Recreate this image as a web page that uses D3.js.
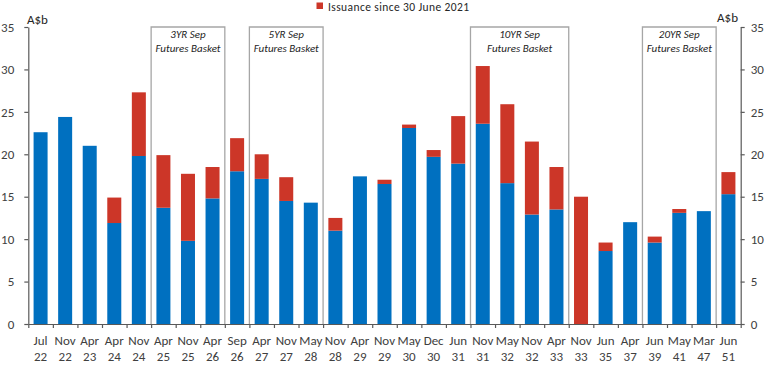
<!DOCTYPE html>
<html>
<head>
<meta charset="utf-8">
<script src="https://cdn.jsdelivr.net/npm/d3@7"></script>
<style>
  html, body { margin: 0; padding: 0; background: #fff; }
  svg { display: block; font-family: Carlito, Lato, "Open Sans", sans-serif; }
</style>
</head>
<body>
<svg id="chart" width="768" height="367"></svg>
<script>
// ---- Data ----
const months = ["Jul","Nov","Apr","Apr","Nov","Apr","Nov","Apr","Sep","Apr","Nov","May","Nov","Apr","Nov","May","Dec","Jun","Nov","May","Nov","Apr","Nov","Jun","Apr","Jun","May","Mar","Jun"];
const years  = ["22","22","23","24","24","25","25","26","26","27","27","28","28","29","29","30","30","31","31","32","32","33","33","35","37","39","41","47","51"];
// Outstanding before 30 June 2021 (blue)
const existing = [22.6,24.4,21.0,11.9,19.8,13.7,9.8,14.8,18.0,17.1,14.5,14.3,11.0,17.4,16.5,23.1,19.7,18.9,23.6,16.6,12.9,13.5,0,8.6,12.0,9.6,13.1,13.3,15.3];
// Issuance since 30 June 2021 (red)
const issuance = [0,0,0,3.0,7.5,6.2,7.9,3.7,3.9,2.9,2.8,0,1.5,0,0.5,0.4,0.8,5.6,6.8,9.3,8.6,5.0,15.0,1.0,0,0.7,0.45,0,2.6];
const yTicks = [0,5,10,15,20,25,30,35];
const legendLabel = "Issuance since 30 June 2021";
const unitLabel = "A$b";
// Futures basket boxes: [first index, last index, line1, line2]
const boxStart = [5, 9, 18, 25];
const boxEnd   = [7, 11, 21, 27];
const boxLine1 = ["3YR Sep","5YR Sep","10YR Sep","20YR Sep"];
const boxLine2 = ["Futures Basket","Futures Basket","Futures Basket","Futures Basket"];

// ---- Layout ----
const svg = d3.select("#chart");
const x0 = 28.3, x1 = 740.7, yTop = 27, yBot = 324;
const blue = "#0070c0", red = "#cc3628";
const axisColor = "#595959", textColor = "#404040";

const idx = d3.range(months.length);
const x = d3.scaleBand().domain(idx).range([x0, x1]).paddingInner(0.43).paddingOuter(0.215);
const xb = d3.scaleLinear().domain([0, months.length]).range([x0, x1]);
const y = d3.scaleLinear().domain([0, 35]).range([yBot, yTop]);

// Boxes
const boxes = svg.append("g");
boxStart.forEach((s, i) => {
  const bx0 = xb(s), bx1 = xb(boxEnd[i] + 1);
  boxes.append("path")
    .attr("d", `M${bx0},${yBot}V${y(35)}H${bx1}V${yBot}`)
    .attr("fill", "none").attr("stroke", "#a6a6a6").attr("stroke-width", 1.3);
  const cx = (bx0 + bx1) / 2;
  boxes.append("text").attr("x", cx).attr("y", y(35) + 11)
    .attr("text-anchor", "middle").attr("font-style", "italic").attr("font-size", 11)
    .attr("fill", "#262626").text(boxLine1[i]);
  boxes.append("text").attr("x", cx).attr("y", y(35) + 25)
    .attr("text-anchor", "middle").attr("font-style", "italic").attr("font-size", 11)
    .attr("fill", "#262626").text(boxLine2[i]);
});

// Bars
const stack = idx.map(i => ({ i, a: existing[i], b: issuance[i] }));
const g = svg.append("g");
g.selectAll("rect.blue").data(stack.filter(d => d.a > 0)).join("rect")
  .attr("class", "blue")
  .attr("x", d => x(d.i)).attr("width", x.bandwidth())
  .attr("y", d => y(d.a)).attr("height", d => y(0) - y(d.a))
  .attr("fill", blue);
g.selectAll("rect.red").data(stack.filter(d => d.b > 0)).join("rect")
  .attr("class", "red")
  .attr("x", d => x(d.i)).attr("width", x.bandwidth())
  .attr("y", d => y(d.a + d.b)).attr("height", d => y(d.a) - y(d.a + d.b))
  .attr("fill", red);

// Axes
function styleAxis(sel) {
  sel.selectAll("path.domain").attr("stroke", axisColor).attr("stroke-width", 1.2);
  sel.selectAll(".tick line").attr("stroke", axisColor).attr("stroke-width", 1.2);
  sel.selectAll(".tick text").attr("fill", textColor).attr("font-size", 13)
    .attr("font-family", "Carlito, Lato, 'Open Sans', sans-serif");
}
const yl = svg.append("g").attr("transform", `translate(${x0},0)`)
  .call(d3.axisLeft(y).tickValues(yTicks).tickSize(4).tickSizeOuter(0).tickPadding(10));
styleAxis(yl);
const yr = svg.append("g").attr("transform", `translate(${x1},0)`)
  .call(d3.axisRight(y).tickValues(yTicks).tickSize(4).tickSizeOuter(0).tickPadding(6));
styleAxis(yr);

const xa = svg.append("g").attr("transform", `translate(0,${yBot})`)
  .call(d3.axisBottom(xb).tickValues(d3.range(months.length + 1)).tickFormat("").tickSize(4).tickSizeOuter(0));
styleAxis(xa);

// Category labels (two lines)
const lab = svg.append("g").attr("fill", textColor).attr("font-size", 13).attr("text-anchor", "middle");
lab.selectAll("text.m").data(idx).join("text").attr("class", "m")
  .attr("x", i => x(i) + x.bandwidth() / 2).attr("y", 345).text(i => months[i]);
lab.selectAll("text.yy").data(idx).join("text").attr("class", "yy")
  .attr("x", i => x(i) + x.bandwidth() / 2).attr("y", 361).text(i => years[i]);

// Unit labels
svg.append("text").attr("x", 27).attr("y", 24).attr("font-size", 13).attr("fill", "#262626").text(unitLabel);
svg.append("text").attr("x", 738).attr("y", 22).attr("font-size", 13).attr("fill", "#262626")
  .attr("text-anchor", "end").text(unitLabel);

// Legend
svg.append("rect").attr("x", 316.5).attr("y", 2.5).attr("width", 6.5).attr("height", 6.5).attr("fill", red);
svg.append("text").attr("x", 328).attr("y", 11).attr("font-size", 11.5).attr("letter-spacing", 0.4)
  .attr("fill", "#262626").text(legendLabel);
</script>
</body>
</html>
